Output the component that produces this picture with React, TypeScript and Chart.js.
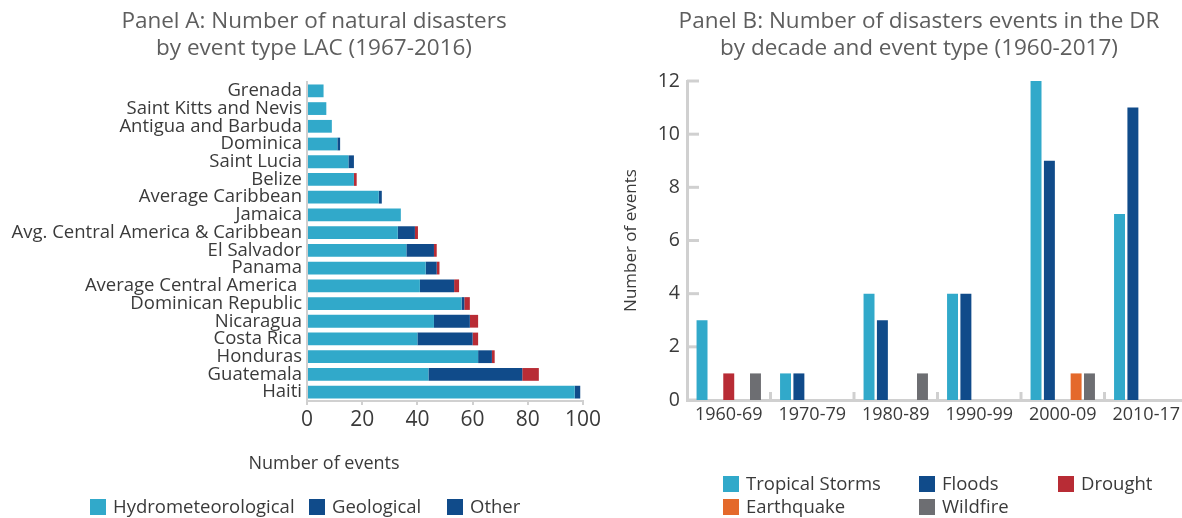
import React, { useEffect, useRef } from 'react';
import { Chart, registerables } from 'chart.js';

Chart.register(...registerables);

const FAMILY = '"Open Sans", Lato, sans-serif';
const TEXT_COLOR = '#3a3a3a';
const TITLE_COLOR = '#5e5e5e';
const AXIS_COLOR = '#d0d0d0';

const C_HYDRO = '#31a9ca';
const C_GEO = '#104b8a';
const C_RED = '#b82c35';
const C_ORANGE = '#e4692b';
const C_GREY = '#6d6e72';

// ---------- Panel A data ----------
const titleA = ['Panel A: Number of natural disasters', 'by event type LAC (1967-2016)'];
const axisTitleA = 'Number of events';
const countries = [
  'Grenada',
  'Saint Kitts and Nevis',
  'Antigua and Barbuda',
  'Dominica',
  'Saint Lucia',
  'Belize',
  'Average Caribbean',
  'Jamaica',
  'Avg. Central America & Caribbean',
  'El Salvador',
  'Panama',
  'Average Central America ',
  'Dominican Republic',
  'Nicaragua',
  'Costa Rica',
  'Honduras',
  'Guatemala',
  'Haiti',
];
const hydrometeorological = [6, 7, 9, 11, 15, 17, 26, 34, 32.9, 36, 43, 40.9, 56, 46, 40, 62, 44, 97];
const geological = [0, 0, 0, 1, 2, 0, 1.1, 0, 6.2, 10, 4, 12.4, 1, 13, 20, 5, 34, 2];
const otherA = [0, 0, 0, 0, 0, 1, 0, 0, 1.1, 1, 1, 1.8, 2, 3, 2, 1, 6, 0];
const seriesA = ['Hydrometeorological', 'Geological', 'Other'];
const legendColorsA = [C_HYDRO, C_GEO, C_GEO];
const xMaxA = 100;
const xStepA = 20;

// ---------- Panel B data ----------
const titleB = ['Panel B: Number of disasters events in the DR', 'by decade and event type (1960-2017)'];
const axisTitleB = 'Number of events';
const decades = ['1960-69', '1970-79', '1980-89', '1990-99', '2000-09', '2010-17'];
const tropicalStorms = [3, 1, 4, 4, 12, 7];
const floods = [0, 1, 3, 4, 9, 11];
const drought = [1, 0, 0, 0, 0, 0];
const earthquake = [0, 0, 0, 0, 1, 0];
const wildfire = [1, 0, 1, 0, 1, 0];
const seriesB = ['Tropical Storms', 'Floods', 'Drought', 'Earthquake', 'Wildfire'];
const yMaxB = 12;
const yStepB = 2;

type TextItem = { text: string; x: number; y: number; size: number; color: string };
type Pos = { x: number; y: number };

function makeOverlay(
  texts: TextItem[],
  legendPos: Pos[],
  legendColors: string[] | null,
  legendSize: number,
  box: number,
  gap: number
) {
  return {
    id: 'overlay',
    afterDraw(chart: any) {
      const ctx = chart.ctx as CanvasRenderingContext2D;
      ctx.save();
      ctx.textBaseline = 'middle';
      for (const t of texts) {
        ctx.font = `${t.size}px ${FAMILY}`;
        ctx.fillStyle = t.color;
        ctx.textAlign = 'center';
        ctx.fillText(t.text, t.x, t.y);
      }
      const ds = chart.data.datasets;
      ctx.font = `${legendSize}px ${FAMILY}`;
      ctx.textAlign = 'left';
      ds.forEach((d: any, i: number) => {
        const p = legendPos[i];
        if (!p) return;
        ctx.fillStyle = legendColors ? legendColors[i] : d.backgroundColor;
        ctx.fillRect(p.x, p.y - box / 2, box, box);
        ctx.fillStyle = TEXT_COLOR;
        ctx.fillText(d.label, p.x + box + gap, p.y + 1);
      });
      ctx.restore();
    },
  };
}

const innerTicks = {
  id: 'innerTicks',
  beforeDatasetsDraw(chart: any) {
    const ctx = chart.ctx as CanvasRenderingContext2D;
    const xs = chart.scales.x;
    const ys = chart.scales.y;
    const area = chart.chartArea;
    ctx.save();
    ctx.strokeStyle = AXIS_COLOR;
    ctx.lineWidth = 3;
    ys.ticks.forEach((_t: any, i: number) => {
      const py = ys.getPixelForTick(i);
      ctx.beginPath();
      ctx.moveTo(area.left, py);
      ctx.lineTo(area.left + 12, py);
      ctx.stroke();
    });
    for (let i = 1; i < xs.ticks.length; i++) {
      const px = (xs.getPixelForTick(i - 1) + xs.getPixelForTick(i)) / 2;
      ctx.beginPath();
      ctx.moveTo(px, area.bottom);
      ctx.lineTo(px, area.bottom - 8);
      ctx.stroke();
    }
    ctx.restore();
  },
};

export default function App() {
  const refA = useRef<HTMLCanvasElement>(null);
  const refB = useRef<HTMLCanvasElement>(null);

  useEffect(() => {
    document.body.style.margin = '0';

    const chartA = new Chart(refA.current!, {
      type: 'bar',
      data: {
        labels: countries,
        datasets: [
          { label: seriesA[0], data: hydrometeorological, backgroundColor: C_HYDRO },
          { label: seriesA[1], data: geological, backgroundColor: C_GEO },
          { label: seriesA[2], data: otherA, backgroundColor: C_RED },
        ],
      },
      options: {
        indexAxis: 'y',
        animation: false,
        responsive: false,
        layout: { padding: { top: 82, right: 27, bottom: 87, left: 0 } },
        datasets: { bar: { categoryPercentage: 0.8, barPercentage: 0.9 } } as any,
        scales: {
          x: {
            stacked: true,
            min: 0,
            max: xMaxA,
            ticks: { stepSize: xStepA, font: { family: FAMILY, size: 21 }, color: TEXT_COLOR, padding: 2 },
            grid: { drawOnChartArea: false, drawTicks: true, tickLength: 4, color: AXIS_COLOR, lineWidth: 2 },
            border: { color: AXIS_COLOR, width: 2 },
            afterFit: (s: any) => {
              s.height = 30;
            },
          },
          y: {
            stacked: true,
            ticks: { autoSkip: false, font: { family: FAMILY, size: 18.5 }, color: TEXT_COLOR, padding: 5 },
            grid: { display: false, drawTicks: false },
            border: { display: true, color: AXIS_COLOR, width: 2 },
            afterFit: (s: any) => {
              s.width = 307;
            },
          },
        },
        plugins: { legend: { display: false }, tooltip: { enabled: false } },
      },
      plugins: [
        makeOverlay(
          [
            { text: titleA[0], x: 314, y: 22, size: 22.5, color: TITLE_COLOR },
            { text: titleA[1], x: 314, y: 49, size: 22.5, color: TITLE_COLOR },
            { text: axisTitleA, x: 324, y: 464, size: 18, color: TEXT_COLOR },
          ],
          [
            { x: 90, y: 507 },
            { x: 309, y: 507 },
            { x: 447, y: 507 },
          ],
          legendColorsA,
          18.5,
          16,
          7
        ),
      ],
    });

    const chartB = new Chart(refB.current!, {
      type: 'bar',
      data: {
        labels: decades,
        datasets: [
          { label: seriesB[0], data: tropicalStorms, backgroundColor: C_HYDRO },
          { label: seriesB[1], data: floods, backgroundColor: C_GEO },
          { label: seriesB[2], data: drought, backgroundColor: C_RED },
          { label: seriesB[3], data: earthquake, backgroundColor: C_ORANGE },
          { label: seriesB[4], data: wildfire, backgroundColor: C_GREY },
        ],
      },
      options: {
        animation: false,
        responsive: false,
        layout: { padding: { top: 81, right: 12, bottom: 90, left: 0 } },
        datasets: { bar: { categoryPercentage: 0.8, barPercentage: 0.82 } } as any,
        scales: {
          x: {
            ticks: { font: { family: FAMILY, size: 18 }, color: TEXT_COLOR, padding: 4 },
            grid: { display: false, drawTicks: false },
            border: { color: AXIS_COLOR, width: 3 },
            afterFit: (s: any) => {
              s.height = 28;
            },
          },
          y: {
            min: 0,
            max: yMaxB,
            ticks: { stepSize: yStepB, font: { family: FAMILY, size: 19.5 }, color: TEXT_COLOR, padding: 7 },
            grid: { display: false, drawTicks: false },
            border: { color: AXIS_COLOR, width: 3 },
            title: {
              display: true,
              text: axisTitleB,
              font: { family: FAMILY, size: 17 },
              color: TEXT_COLOR,
              padding: { top: 21, bottom: 0 },
            },
            afterFit: (s: any) => {
              s.width = 87;
            },
          },
        },
        plugins: { legend: { display: false }, tooltip: { enabled: false } },
      },
      plugins: [
        innerTicks,
        makeOverlay(
          [
            { text: titleB[0], x: 319, y: 22, size: 22.5, color: TITLE_COLOR },
            { text: titleB[1], x: 319, y: 49, size: 22.5, color: TITLE_COLOR },
          ],
          [
            { x: 123, y: 484 },
            { x: 319, y: 484 },
            { x: 458, y: 484 },
            { x: 123, y: 507 },
            { x: 319, y: 507 },
          ],
          null,
          18.5,
          16,
          7
        ),
      ],
    });

    return () => {
      chartA.destroy();
      chartB.destroy();
    };
  }, []);

  return (
    <div
      style={{
        position: 'fixed',
        left: 0,
        top: 0,
        width: 1182,
        height: 518,
        overflow: 'hidden',
        background: '#ffffff',
      }}
    >
      <canvas ref={refA} width={610} height={518} style={{ position: 'absolute', left: 0, top: 0 }} />
      <canvas ref={refB} width={600} height={518} style={{ position: 'absolute', left: 600, top: 0 }} />
    </div>
  );
}
